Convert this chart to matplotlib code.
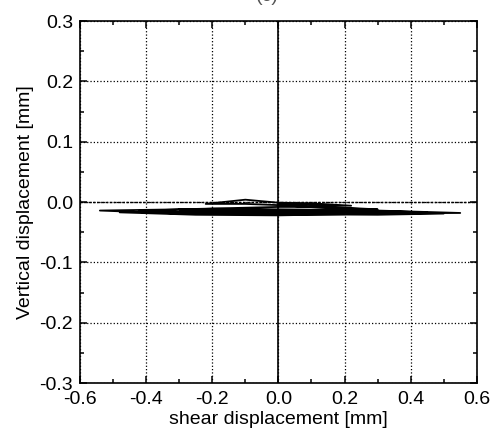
import matplotlib
matplotlib.use("Agg")
import matplotlib.pyplot as plt
from matplotlib.ticker import MultipleLocator

plt.rcParams['font.family'] = ['Liberation Sans', 'DejaVu Sans']
plt.rcParams['axes.unicode_minus'] = False

# shear / vertical displacement path (mm)
shear = [0.00, 0.10, 0.22, 0.10, 0.00, -0.10, -0.22, -0.10, 0.00,
         0.15, 0.30, 0.15, 0.00, -0.15, -0.30, -0.15, 0.00,
         0.20, 0.45, 0.20, 0.00, -0.20, -0.42, -0.20, 0.00,
         0.25, 0.55, 0.30, 0.00, -0.30, -0.54, -0.30, 0.00,
         0.30, 0.50, 0.30, 0.00, -0.25, -0.48, -0.25, 0.00, 0.20]
vertical = [-0.004, -0.005, -0.006, -0.002, -0.001, 0.004, -0.003, -0.003, -0.005,
            -0.010, -0.012, -0.008, -0.008, -0.010, -0.012, -0.015, -0.014,
            -0.016, -0.017, -0.013, -0.012, -0.011, -0.014, -0.018, -0.017,
            -0.019, -0.018, -0.014, -0.015, -0.012, -0.014, -0.019, -0.020,
            -0.021, -0.019, -0.016, -0.017, -0.016, -0.017, -0.021, -0.022, -0.020]

x_ticks = [-0.6, -0.4, -0.2, 0.0, 0.2, 0.4, 0.6]
y_ticks = [-0.3, -0.2, -0.1, 0.0, 0.1, 0.2, 0.3]

fig = plt.figure(figsize=(4.91, 4.30), dpi=100)
ax = fig.add_axes([0.163, 0.109, 0.808, 0.842])

ax.grid(True, which='major', linestyle=':', color='black', linewidth=0.9)
ax.axvline(0, color='black', linewidth=1.2)
ax.axhline(0, color='black', linewidth=1.0, linestyle=(0, (2, 1)))
ax.plot(shear, vertical, color='black', linewidth=1.3)

ax.set_xlim(-0.6, 0.6)
ax.set_ylim(-0.3, 0.3)
ax.set_xticks(x_ticks)
ax.set_yticks(y_ticks)
ax.xaxis.set_minor_locator(MultipleLocator(0.1))
ax.yaxis.set_minor_locator(MultipleLocator(0.05))
ax.tick_params(which='both', direction='in', top=True, right=True, labelsize=14, width=1.1)
ax.tick_params(which='major', length=5)
ax.tick_params(which='minor', length=3)
ax.tick_params(axis='x', pad=6)
ax.tick_params(axis='y', pad=5)
for s in ax.spines.values():
    s.set_linewidth(1.2)

ax.set_xlabel("shear displacement [mm]", fontsize=14, labelpad=2)
ax.set_ylabel("Vertical displacement [mm]", fontsize=14, labelpad=4)

# title clipped at the top edge in the reference
fig.text(0.545, 1.008, "(c)", ha='center', va='center', fontsize=14, color='#555555')

fig.savefig("out.png", dpi=100)
